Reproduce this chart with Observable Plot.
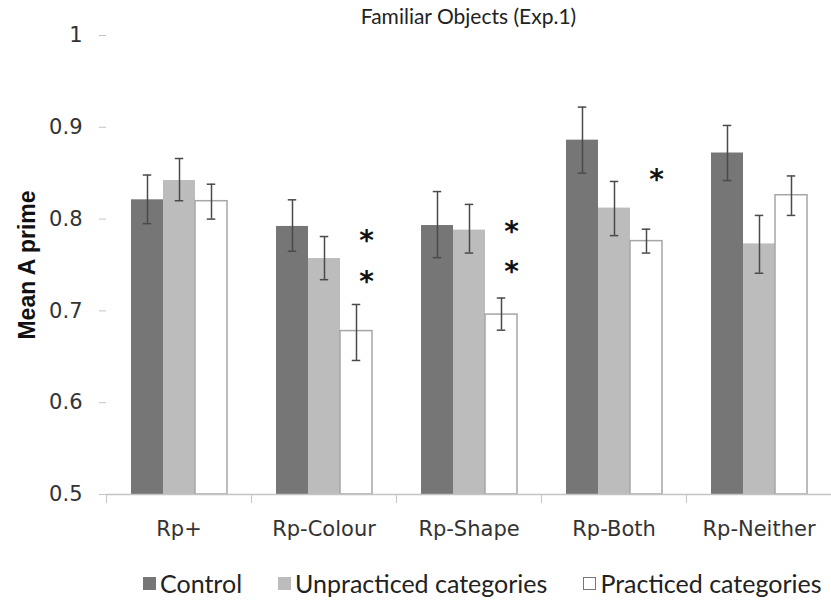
<!DOCTYPE html>
<html><head><meta charset="utf-8">
<script src="https://cdn.jsdelivr.net/npm/d3@7"></script>
<script src="https://cdn.jsdelivr.net/npm/@observablehq/plot@0.6"></script>
<style>
body{margin:0;background:#fff;}
#wrap{position:relative;width:831px;height:612px;overflow:hidden;}
#title{position:absolute;top:3px;left:106px;width:725px;text-align:center;font-family:Lato,"Open Sans",sans-serif;font-size:21px;color:#222;line-height:26px;}
#ylab{position:absolute;left:27px;top:265px;transform:translate(-50%,-50%) rotate(-90deg);font-family:"Liberation Sans",Arial,sans-serif;font-weight:bold;font-size:23px;color:#111;white-space:nowrap;}
#legend{position:absolute;top:569px;left:0;width:831px;height:28px;line-height:28px;font-family:Lato,"Open Sans",sans-serif;font-size:25px;color:#222;display:flex;justify-content:flex-start;padding-left:143px;box-sizing:border-box;}
#legend .it{display:flex;align-items:center;margin-right:36px;white-space:nowrap;}
#legend .sw{width:13px;height:13px;margin-right:4px;box-sizing:border-box;}
</style></head><body>
<div id="wrap"><div id="chart"></div><div id="title"></div><div id="ylab"></div><div id="legend"></div></div>
<script>
const titleText = "Familiar Objects (Exp.1)";
const yTitle = "Mean A prime";
const categories = ["Rp+","Rp-Colour","Rp-Shape","Rp-Both","Rp-Neither"];
const series = ["Control","Unpracticed categories","Practiced categories"];
const seriesColors = ["#767676","#bcbcbc","#ffffff"];
const yTicks = [0.5,0.6,0.7,0.8,0.9,1];

const controlMean = [0.821,0.792,0.793,0.886,0.872];
const controlLo   = [0.795,0.765,0.758,0.850,0.842];
const controlHi   = [0.848,0.821,0.830,0.922,0.902];
const unpracMean  = [0.842,0.757,0.788,0.812,0.773];
const unpracLo    = [0.820,0.734,0.763,0.782,0.741];
const unpracHi    = [0.866,0.781,0.816,0.841,0.804];
const pracMean    = [0.8195,0.678,0.696,0.776,0.826];
const pracLo      = [0.800,0.646,0.679,0.763,0.804];
const pracHi      = [0.838,0.707,0.714,0.789,0.847];

const starCats   = ["Rp-Colour","Rp-Colour","Rp-Shape","Rp-Shape","Rp-Both"];
const starValues = [0.778,0.734,0.788,0.744,0.845];

const W=831, H=555, ML=106, MR=0, MT=35, MB=61;
const step = (W-ML-MR)/categories.length;
const padOuter = 0.73;
const bw = step/(series.length+2*padOuter);
const capW = 9;

const means=[controlMean,unpracMean,pracMean], los=[controlLo,unpracLo,pracLo], his=[controlHi,unpracHi,pracHi];
const data=[];
categories.forEach((c,i)=>series.forEach((s,j)=>data.push({cat:c,series:s,value:means[j][i],lo:los[j][i],hi:his[j][i]})));
const stars = starCats.map((c,i)=>({cat:c,y:starValues[i]}));

const plot = Plot.plot({
  width:W,height:H,marginLeft:ML,marginRight:MR,marginTop:MT,marginBottom:MB,
  style:{fontFamily:"'DejaVu Sans',Verdana,sans-serif",fontSize:"21px",color:"#333",background:"white",overflow:"visible"},
  fx:{domain:categories,padding:0,label:null},
  x:{domain:series,paddingInner:0,paddingOuter:padOuter,axis:null},
  y:{domain:[0.5,1],label:null},
  color:{domain:series,range:seriesColors},
  marks:[
    Plot.barY(data,{fx:"cat",x:"series",y1:0.5,y2:"value",fill:"series"}),
    Plot.barY(data.filter(d=>d.series===series[2]),{fx:"cat",x:"series",y1:0.5,y2:"value",fill:"none",stroke:"#a6a6a6",strokeWidth:1.5}),
    Plot.ruleY([0.5],{stroke:"#c4c4c4",strokeWidth:1.5}),
    Plot.ruleX(data,{fx:"cat",x:"series",y1:"lo",y2:"hi",stroke:"#4a4a4a",strokeWidth:1.5}),
    Plot.tickY(data,{fx:"cat",x:"series",y:"lo",stroke:"#4a4a4a",strokeWidth:1.5,insetLeft:(bw-capW)/2,insetRight:(bw-capW)/2}),
    Plot.tickY(data,{fx:"cat",x:"series",y:"hi",stroke:"#4a4a4a",strokeWidth:1.5,insetLeft:(bw-capW)/2,insetRight:(bw-capW)/2}),
    Plot.text(stars,{fx:"cat",x:()=>series[2],y:"y",text:()=>"*",fontSize:28,fontWeight:"bold",fill:"#111",dx:10,dy:2}),
    Plot.axisY({ticks:yTicks,tickFormat:d=>String(+d.toFixed(1)),tickSize:7,tickPadding:17,stroke:"#c4c4c4",fill:"#333",line:true,label:null}),
    Plot.axisFx({anchor:"bottom",tickSize:0,tickPadding:27,fill:"#333",label:null}),
    Plot.axisFx({anchor:"bottom",tickSize:9,tickFormat:()=>"",dx:-step/2,stroke:"#c4c4c4",label:null})
  ]
});
document.getElementById("chart").appendChild(plot);
document.getElementById("title").textContent = titleText;
document.getElementById("ylab").textContent = yTitle;
const lg=document.getElementById("legend");
series.forEach((s,j)=>{
  const it=document.createElement("div");it.className="it";
  const sw=document.createElement("div");sw.className="sw";sw.style.background=seriesColors[j];
  sw.style.border = j===2 ? "1px solid #777" : "none";
  it.appendChild(sw);
  const t=document.createElement("span");t.textContent=s;it.appendChild(t);
  lg.appendChild(it);
});
</script></body></html>
